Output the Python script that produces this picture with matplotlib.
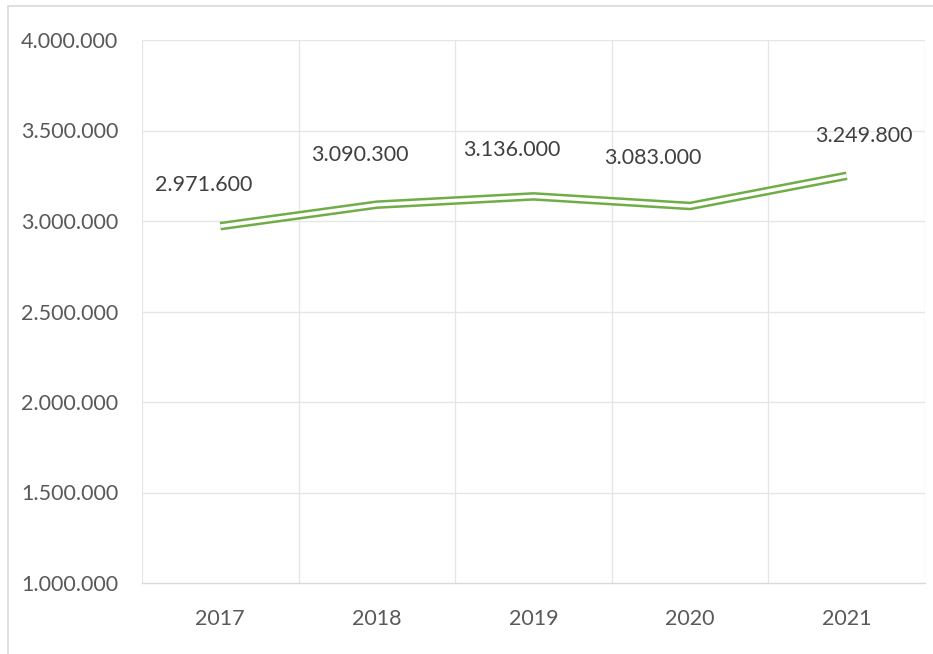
import matplotlib
matplotlib.use("Agg")
import matplotlib.pyplot as plt
from matplotlib.patches import Rectangle

# data
years = ["2017", "2018", "2019", "2020", "2021"]
values = [2971600, 3090300, 3136000, 3083000, 3249800]
value_labels = ["2.971.600", "3.090.300", "3.136.000", "3.083.000", "3.249.800"]
y_ticks = [1000000, 1500000, 2000000, 2500000, 3000000, 3500000, 4000000]

# label offsets in pixels (labels were placed by hand in the original)
label_dx = [-17, -17, -22, -37, 17]
label_dy = [41, 50, 46, 48, 40]

plt.rcParams['font.family'] = ['Lato', 'DejaVu Sans']
text_col = "#595959"
grid_col = "#E6E6E6"
green = "#70AD47"

fig = plt.figure(figsize=(9.33, 6.54), dpi=100)
ax = fig.add_axes([142 / 933, 1 - 583 / 654, (925 - 142) / 933, (583 - 40) / 654])

# outer chart border
fig.patches.append(Rectangle((8 / 933, -0.01), 1.0, 1 - 6 / 654 + 0.01,
                             transform=fig.transFigure, fill=False,
                             edgecolor="#D9D9D9", linewidth=1.2))

x = list(range(len(years)))
# double line: thick green with a white core
ax.plot(x, values, color=green, linewidth=6.2, solid_joinstyle="miter",
        solid_capstyle="butt", zorder=3)
ax.plot(x, values, color="white", linewidth=2.6, solid_joinstyle="miter",
        solid_capstyle="butt", zorder=4)

for i, (v, lab) in enumerate(zip(values, value_labels)):
    ax.annotate(lab, (i, v), xytext=(label_dx[i], label_dy[i]), textcoords="offset pixels",
                ha="center", va="center", fontsize=15.5, color="#404040")

ax.set_xlim(-0.5, len(years) - 0.5)
ax.set_ylim(1000000, 4000000)
ax.set_yticks(y_ticks)
ax.set_yticklabels([f"{t:,}".replace(",", ".") for t in y_ticks])
ax.set_xticks(x)
ax.set_xticklabels(years)

# vertical gridlines between categories
for b in [i - 0.5 for i in range(len(years) + 1)]:
    ax.axvline(b, color=grid_col, linewidth=1.0, zorder=1)
for t in y_ticks[1:]:
    ax.axhline(t, color=grid_col, linewidth=1.0, zorder=1)

for s in ["top", "right", "left"]:
    ax.spines[s].set_visible(False)
ax.spines["bottom"].set_color("#D9D9D9")
ax.spines["bottom"].set_linewidth(1.0)

ax.tick_params(axis="both", length=0, labelsize=15.5, labelcolor=text_col)
ax.tick_params(axis="y", pad=17)
ax.tick_params(axis="x", pad=19)

fig.savefig("out.png", dpi=100)
